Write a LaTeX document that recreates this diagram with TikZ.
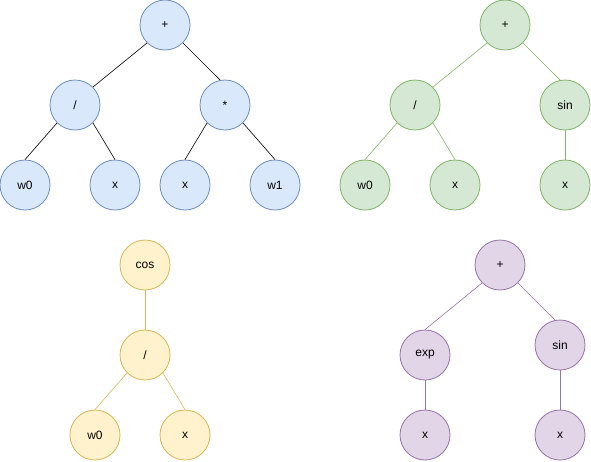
\documentclass[tikz,border=0pt]{standalone}
\usepackage{fontspec}
\setmainfont{Liberation Sans}
\definecolor{bfill}{HTML}{DAE8FC}\definecolor{bline}{HTML}{6C8EBF}
\definecolor{gfill}{HTML}{D5E8D4}\definecolor{gline}{HTML}{82B366}
\definecolor{yfill}{HTML}{FFF2CC}\definecolor{yline}{HTML}{D6B656}
\definecolor{pfill}{HTML}{E1D5E7}\definecolor{pline}{HTML}{9673A6}
\tikzset{
  nd/.style={circle,minimum size=50pt,inner sep=0pt,line width=0.8pt,font=\fontsize{12pt}{14pt}\selectfont},
  bn/.style={nd,draw=bline,fill=bfill},
  gn/.style={nd,draw=gline,fill=gfill},
  yn/.style={nd,draw=yline,fill=yfill},
  pn/.style={nd,draw=pline,fill=pfill},
  ed/.style={line width=0.6pt}
}
\begin{document}
\begin{tikzpicture}[x=1pt,y=-1pt]
\useasboundingbox (0,0) rectangle (591,461);
% blue tree
\node[bn] (b1) at (165,25) {+};
\node[bn] (b2) at (75,105) {/};
\node[bn] (b3) at (225,105) {*};
\node[bn] (b4) at (25,185) {w0};
\node[bn] (b5) at (115,185) {x};
\node[bn] (b6) at (185,185) {x};
\node[bn] (b7) at (275,185) {w1};
\draw[ed,black] (b1.south west) -- (b2.north east);
\draw[ed,black] (b1.south east) -- (b3.101);
\draw[ed,black] (b2.south west) -- (b4.north);
\draw[ed,black] (b2.south east) -- (b5.north);
\draw[ed,black] (b3.south west) -- (b6.north);
\draw[ed,black] (b3.south east) -- (b7.north);
% green tree
\node[gn] (g1) at (505,25) {+};
\node[gn] (g2) at (415,105) {/};
\node[gn] (g3) at (565,105) {sin};
\node[gn] (g4) at (365,185) {w0};
\node[gn] (g5) at (455,185) {x};
\node[gn] (g6) at (565,185) {x};
\draw[ed,gline] (g1.south west) -- (g2.north east);
\draw[ed,gline] (g1.south east) -- (g3.101);
\draw[ed,gline] (g2.south west) -- (g4.north);
\draw[ed,gline] (g2.south east) -- (g5.north);
\draw[ed,gline] (g3.south) -- (g6.north);
% yellow tree
\node[yn] (y1) at (145,265) {cos};
\node[yn] (y2) at (145,355) {/};
\node[yn] (y3) at (95,435) {w0};
\node[yn] (y4) at (185,435) {x};
\draw[ed,yline] (y1.south) -- (y2.north);
\draw[ed,yline] (y2.south west) -- (y3.north);
\draw[ed,yline] (y2.south east) -- (y4.north);
% purple tree
\node[pn] (p1) at (500,265) {+};
\node[pn] (p2) at (425,355) {exp};
\node[pn] (p3) at (560,345) {sin};
\node[pn] (p4) at (425,435) {x};
\node[pn] (p5) at (560,435) {x};
\draw[ed,pline] (p1.south west) -- (p2.north);
\draw[ed,pline] (p1.south east) -- (p3.101);
\draw[ed,pline] (p2.south) -- (p4.north);
\draw[ed,pline] (p3.south) -- (p5.north);
\end{tikzpicture}
\end{document}
